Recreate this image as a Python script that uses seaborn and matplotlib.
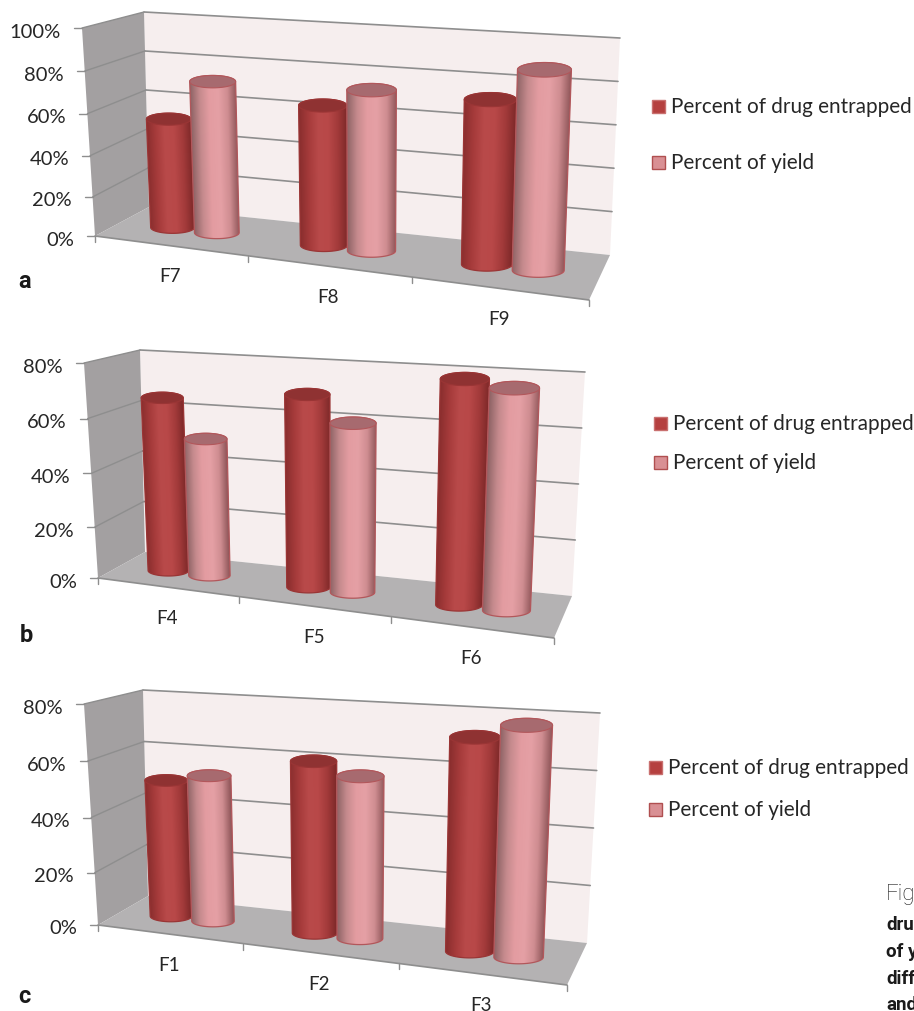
#-- cylinder charts of percent drug entrapped and percent yield, three panels --

import numpy as np
import pandas as pd
import seaborn as sns
import matplotlib
matplotlib.use('Agg')
import matplotlib.pyplot as plt
from matplotlib.colors import to_rgb
from matplotlib.patches import PathPatch, Polygon, Rectangle
from matplotlib.path import Path
from matplotlib.transforms import Transform

series_names = ['Percent of drug entrapped', 'Percent of yield']

cats_a = ['F7', 'F8', 'F9']
drug_a = [54, 67, 76]
yield_a = [74, 76, 91]
ticks_a = [0, 20, 40, 60, 80, 100]

cats_b = ['F4', 'F5', 'F6']
drug_b = [66, 71, 80]
yield_b = [52, 62, 78]
ticks_b = [0, 20, 40, 60, 80]

cats_c = ['F1', 'F2', 'F3']
drug_c = [51, 62, 74]
yield_c = [54, 58, 79]
ticks_c = [0, 20, 40, 60, 80]

#--box corners in pixels: back wall (bl, br, tr, tl) and front (bl, br, tr, tl)--
geom_a = {'back': [(149, 208), (610, 256), (620, 39), (144, 13)],
          'front': [(95, 237), (589, 301), (614, 70), (82, 29)],
          'swatch': (652, 107, 163), 'text': 671, 'letter': ('a', 25, 281)}
geom_b = {'back': [(145, 553), (572, 597), (585, 373), (140, 351)],
          'front': [(98, 579), (554, 639), (579, 401), (84, 364)],
          'swatch': (654, 424, 463), 'text': 673, 'letter': ('b', 26, 635)}
geom_c = {'back': [(148, 897), (587, 944), (600, 714), (143, 691)],
          'front': [(98, 926), (567, 986), (592, 740), (84, 705)],
          'swatch': (649, 768, 810), 'text': 668, 'letter': ('c', 24, 997)}

caption_lines = ['Fig', 'dru', 'of y', 'diff', 'and']

drug_stops = ['#8a2e2e', '#a63b3b', '#b94a4a', '#b84848', '#a23a3a', '#7c2828']
yield_stops = ['#8f6466', '#c58a8d', '#e39ca1', '#e5a0a5', '#cf8d91', '#8e5558']
cap_colors = ['#8f3232', '#a76a6f']
edge_colors = ['#9a3535', '#b2575b']
swatch_colors = ['#b5403f', '#d99094']
swatch_edges = ['#c9706f', '#b04f50']

sns.set_theme(style='white')
plt.rcParams['font.family'] = ['Lato', 'DejaVu Sans']
LABEL = '#262626'
GRID = '#8e8e8e'


class Persp(Transform):
    input_dims = 2
    output_dims = 2

    def __init__(self, src, dst):
        super().__init__()
        A, b = [], []
        for (x, y), (u, v) in zip(src, dst):
            A.append([x, y, 1, 0, 0, 0, -u * x, -u * y])
            A.append([0, 0, 0, x, y, 1, -v * x, -v * y])
            b += [u, v]
        self.h = np.append(np.linalg.solve(np.array(A, float), np.array(b, float)), 1).reshape(3, 3)

    def transform_non_affine(self, values):
        pts = np.column_stack([values, np.ones(len(values))]) @ self.h.T
        return pts[:, :2] / pts[:, 2:]


def corners(x0, x1, top):
    return [(x0, 0), (x1, 0), (x1, top), (x0, top)]


def mix(a, b, t):
    return (a[0] + (b[0] - a[0]) * t, a[1] + (b[1] - a[1]) * t)


def draw_box(ax, g, ticks, top):
    back, front = g['back'], g['front']
    ax.add_patch(Polygon(back, fc='#f6eeee', ec='none', zorder=1))
    ax.add_patch(Polygon([front[0], front[3], back[3], back[0]], fc='#a3a0a1', ec='none', zorder=1))
    ax.add_patch(Polygon([front[0], front[1], back[1], back[0]], fc='#b4b2b3', ec='none', zorder=1))

    for t in ticks:
        f = t / top
        wl, wr = mix(back[0], back[3], f), mix(back[1], back[2], f)
        fl = mix(front[0], front[3], f ** 1.04)
        if t > 0:
            ax.plot([wl[0], wr[0]], [wl[1], wr[1]], color=GRID, lw=1.2, zorder=2)
            ax.plot([fl[0], wl[0]], [fl[1], wl[1]], color=GRID, lw=1.0, zorder=2)
        ax.plot([fl[0] - 8, fl[0]], [fl[1], fl[1]], color=GRID, lw=1.0, zorder=2)
        ax.text(fl[0] - 21, fl[1] + 3, f'{t}%', ha='right', va='center', fontsize=14.5, color=LABEL)


def draw_cylinder(ax, bar, persp, stops, cap, edge, z):
    x0, x1 = bar.get_x(), bar.get_x() + bar.get_width()
    bl, br, tr, tl = persp.transform_non_affine(np.array(corners(x0, x1, bar.get_height())))
    ry_b, ry_t = 0.135 * (br[0] - bl[0]), 0.135 * (tr[0] - tl[0])
    th = np.linspace(0, np.pi, 40)
    cb, ct = (bl + br) / 2, (tl + tr) / 2
    rb, rt = (br[0] - bl[0]) / 2, (tr[0] - tl[0]) / 2
    low = np.column_stack([cb[0] - rb * np.cos(th), cb[1] + ry_b * np.sin(th)])
    high = np.column_stack([ct[0] + rt * np.cos(th), ct[1] - ry_t * np.sin(th)])
    outline = Path(np.vstack([low, high, low[:1]]), closed=True)

    #--shading follows the lean of the cylinder--
    xa, xb = outline.vertices[:, 0].min() - 1, outline.vertices[:, 0].max() + 1
    ya, yb = outline.vertices[:, 1].min() - 1, outline.vertices[:, 1].max() + 1
    xx, yy = np.meshgrid(np.linspace(xa, xb, 200), np.linspace(ya, yb, 200))
    f = (yy - ct[1]) / (cb[1] - ct[1])
    left = tl[0] + (bl[0] - tl[0]) * f
    right = tr[0] + (br[0] - tr[0]) * f
    u = np.clip((xx - left) / (right - left), 0, 1)
    rgb = np.array([to_rgb(c) for c in stops])
    pos = np.linspace(0, 1, len(stops))
    shade = np.dstack([np.interp(u, pos, rgb[:, k]) for k in range(3)])

    bar.set_transform(persp + ax.transData)
    bar.set_clip_on(False)
    bar.set_zorder(z)
    bar.set_facecolor(stops[2])
    bar.set_edgecolor('none')
    clip = PathPatch(outline, fc='none', ec=edge, lw=0.9, zorder=z + 0.2)
    ax.add_patch(clip)
    im = ax.imshow(shade, extent=(xa, xb, yb, ya), aspect='auto', interpolation='bilinear', zorder=z + 0.1)
    im.set_clip_path(clip)
    th2 = np.linspace(0, 2 * np.pi, 80)
    ax.add_patch(Polygon(np.column_stack([ct[0] + rt * np.cos(th2), ct[1] + ry_t * np.sin(th2)]),
                         fc=cap, ec=edge, lw=0.8, zorder=z + 0.3))


def draw_panel(cats, drug, yld, ticks, g):
    ax = fig.add_axes([0, 0, 1, 1], facecolor='none')
    df = pd.DataFrame({'formulation': cats * 2,
                       'percent': drug + yld,
                       'series': [series_names[0]] * 3 + [series_names[1]] * 3})
    sns.barplot(data=df, x='formulation', y='percent', hue='series', hue_order=series_names,
                width=0.6, gap=0, legend=False, ax=ax)
    bars = list(ax.patches)
    ax.set_xlim(0, 914)
    ax.set_ylim(1012, 0)
    ax.axis('off')

    draw_box(ax, g, ticks, ticks[-1])

    #--bars stand on a plane half way between the back wall and the front edge--
    plane = [tuple((np.array(a) + np.array(b)) / 2) for a, b in zip(g['back'], g['front'])]
    plane[2] = (plane[2][0] - 8, plane[2][1])
    persp = Persp([(-0.5, 0), (2.5, 0), (2.5, ticks[-1]), (-0.5, ticks[-1])], plane)

    for i, bar in enumerate(bars):
        s = i // 3
        draw_cylinder(ax, bar, persp, [drug_stops, yield_stops][s], cap_colors[s], edge_colors[s], 3 + s + i * 0.5)
    ax.set_xlim(0, 914)
    ax.set_ylim(1012, 0)

    #--front edge ticks take their spacing from the bar plane--
    fl, fr = g['front'][0], g['front'][1]
    def on_edge(c):
        px = persp.transform_non_affine(np.array([(c, 0)]))[0][0]
        return mix(fl, fr, (px - plane[0][0]) / (plane[1][0] - plane[0][0]))

    ax.plot([fl[0], fr[0]], [fl[1], fr[1]], color=GRID, lw=1.2, zorder=2)
    for c in [-0.5, 0.5, 1.5, 2.5]:
        x, y = on_edge(c)
        ax.plot([x, x], [y, y + 6], color=GRID, lw=1.0, zorder=2)
    for i, c in enumerate(cats):
        x, y = on_edge(i)
        ax.text(x, y + 30, c, ha='center', va='center', fontsize=13.5, color=LABEL)

    sx, y0, y1 = g['swatch']
    for name, y, fc, ec in zip(series_names, (y0, y1), swatch_colors, swatch_edges):
        ax.add_patch(Rectangle((sx, y - 6.5), 13, 13, fc=fc, ec=ec, lw=1.0, zorder=3))
        ax.text(g['text'], y, name, ha='left', va='center', fontsize=14.9, color=LABEL)

    letter, lx, ly = g['letter']
    ax.text(lx, ly, letter, ha='center', va='center', fontsize=17, fontweight='bold',
            family=['Roboto', 'DejaVu Sans'], color='#1a1a1a')


fig = plt.figure(figsize=(9.14, 10.12), dpi=100)
draw_panel(cats_a, drug_a, yield_a, ticks_a, geom_a)
draw_panel(cats_b, drug_b, yield_b, ticks_b, geom_b)
draw_panel(cats_c, drug_c, yield_c, ticks_c, geom_c)

for i, (line, y) in enumerate(zip(caption_lines, [895, 925, 952, 979, 1005])):
    fig.text(886 / 914, 1 - y / 1012, line, ha='left', va='center', fontsize=16 if i == 0 else 13.5,
             fontweight='light' if i == 0 else 'bold', color='#1a1a1a',
             family=['Roboto', 'DejaVu Sans'])

fig.savefig('out.png', dpi=100, facecolor='white')
